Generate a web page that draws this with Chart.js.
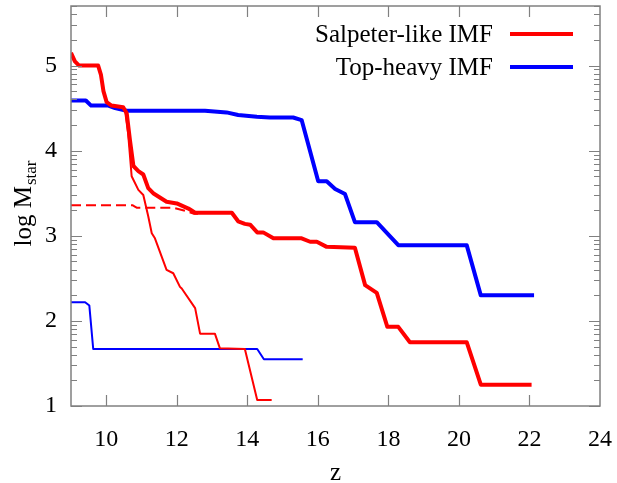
<!DOCTYPE html>
<html lang="en">
<head>
  <meta charset="UTF-8" />
  <title>log Mstar vs z</title>
  <script src="https://cdn.jsdelivr.net/npm/chart.js"></script>
  <style>
    html, body { margin: 0; padding: 0; background: #fff; }
    .chart-container { width: 617px; height: 483px; }
  </style>
</head>
<body>
  <div class="chart-container">
    <canvas id="mstarChart"></canvas>
  </div>

  <script>
    // Salpeter-like IMF, main branch (thick red)
    const salpZ = [9.0, 9.11, 9.23, 9.77, 9.85, 9.92, 10.01, 10.15, 10.48, 10.58, 10.67, 10.77, 10.91, 11.05, 11.19, 11.33, 11.71, 12.0, 12.33, 12.52, 13.56, 13.74, 13.93, 14.08, 14.28, 14.45, 14.74, 15.54, 15.78, 15.97, 16.25, 17.05, 17.34, 17.67, 17.97, 18.28, 18.61, 20.22, 20.62, 22.06];
    const salpM = [5.15, 5.05, 5.0, 5.0, 4.89, 4.70, 4.57, 4.53, 4.51, 4.44, 4.13, 3.82, 3.76, 3.72, 3.56, 3.50, 3.40, 3.38, 3.32, 3.27, 3.27, 3.17, 3.14, 3.13, 3.04, 3.04, 2.97, 2.97, 2.93, 2.93, 2.87, 2.86, 2.42, 2.33, 1.93, 1.93, 1.75, 1.75, 1.25, 1.25];

    // Top-heavy IMF, main branch (thick blue)
    const topZ = [9.0, 9.42, 9.57, 10.06, 10.25, 10.58, 12.8, 13.41, 13.74, 14.27, 14.64, 15.3, 15.54, 16.01, 16.25, 16.49, 16.77, 17.05, 17.67, 18.28, 20.22, 20.62, 22.13];
    const topM = [4.59, 4.59, 4.53, 4.53, 4.50, 4.47, 4.47, 4.45, 4.42, 4.40, 4.39, 4.39, 4.36, 3.64, 3.64, 3.55, 3.49, 3.16, 3.16, 2.89, 2.89, 2.30, 2.30];

    // Salpeter-like IMF, secondary branch (thin red)
    const salp2Z = [10.53, 10.62, 10.72, 10.91, 11.05, 11.19, 11.29, 11.38, 11.71, 11.9, 12.09, 12.14, 12.52, 12.66, 13.08, 13.22, 13.93, 14.28, 14.69];
    const salp2M = [4.48, 4.2, 3.70, 3.54, 3.48, 3.23, 3.03, 2.97, 2.60, 2.56, 2.40, 2.38, 2.15, 1.85, 1.85, 1.68, 1.67, 1.07, 1.07];

    // Salpeter-like IMF, dashed branch
    const salp3Z = [9.0, 10.74, 10.86, 11.9, 12.28, 12.47, 12.6];
    const salp3M = [3.36, 3.36, 3.33, 3.33, 3.29, 3.26, 3.26];

    // Top-heavy IMF, secondary branch (thin blue)
    const top2Z = [9.0, 9.4, 9.52, 9.63, 14.28, 14.47, 15.57];
    const top2M = [2.22, 2.22, 2.18, 1.67, 1.67, 1.55, 1.55];

    const xTicks = [10, 12, 14, 16, 18, 20, 22, 24];
    const yMajor = [1, 2, 3, 4, 5];

    const FONT = '"Liberation Serif", "DejaVu Serif", serif';
    const AXIS_COLOR = '#808080';

    function pts(xs, ys) {
      return xs.map((x, i) => ({ x: x, y: ys[i] }));
    }

    // major integer ticks plus log-style minor ticks n + log10(k)
    const yTicks = [];
    yMajor.forEach(n => {
      yTicks.push({ value: n, major: true });
      for (let k = 2; k <= 9; k++) {
        const v = n + Math.log10(k);
        if (v < 5.7) yTicks.push({ value: v, major: false });
      }
    });

    // inward ticks on all four sides, gnuplot style
    const innerTicks = {
      id: 'innerTicks',
      afterDraw(chart) {
        const c = chart.ctx, a = chart.chartArea;
        const xs = chart.scales.x, ys = chart.scales.y;
        c.save();
        c.strokeStyle = AXIS_COLOR;
        c.lineWidth = 1.2;
        c.beginPath();
        xTicks.forEach(v => {
          const px = Math.round(xs.getPixelForValue(v)) + 0.5;
          if (px >= a.right - 1) return;
          c.moveTo(px, a.bottom); c.lineTo(px, a.bottom - 11);
          c.moveTo(px, a.top); c.lineTo(px, a.top + 11);
        });
        yTicks.forEach(t => {
          const py = Math.round(ys.getPixelForValue(t.value)) + 0.5;
          const len = t.major ? 11 : 6;
          c.moveTo(a.left, py); c.lineTo(a.left + len, py);
          c.moveTo(a.right, py); c.lineTo(a.right - len, py);
        });
        c.stroke();
        c.lineWidth = 1.5;
        c.strokeRect(a.left, a.top, a.right - a.left, a.bottom - a.top);
        c.restore();
      }
    };

    // legend with text to the left of the sample line, plus y title with subscript
    const extras = {
      id: 'extras',
      afterDraw(chart) {
        const c = chart.ctx;
        c.save();
        c.font = '25px ' + FONT;
        c.fillStyle = '#000';
        c.textAlign = 'right';
        c.textBaseline = 'middle';
        [0, 1].forEach((i, row) => {
          const ds = chart.data.datasets[i];
          const y = 34 + row * 33;
          c.fillText(ds.label, 493, y + 1);
          c.strokeStyle = ds.borderColor;
          c.lineWidth = 4;
          c.beginPath();
          c.moveTo(510, y); c.lineTo(573, y);
          c.stroke();
        });

        c.translate(31, 204);
        c.rotate(-Math.PI / 2);
        c.textBaseline = 'alphabetic';
        c.textAlign = 'left';
        const main = 'log M';
        c.font = '17px ' + FONT;
        const subW = c.measureText('star').width;
        c.font = '25px ' + FONT;
        const mainW = c.measureText(main).width;
        const x0 = -(mainW + subW) / 2;
        c.fillText(main, x0, 0);
        c.font = '17px ' + FONT;
        c.fillText('star', x0 + mainW + 1, 5);
        c.restore();
      }
    };

    const ctx = document.getElementById('mstarChart').getContext('2d');

    const chart = new Chart(ctx, {
      type: 'line',
      data: {
        datasets: [
          { label: 'Salpeter-like IMF', data: pts(salpZ, salpM), borderColor: '#ff0000', borderWidth: 4 },
          { label: 'Top-heavy IMF', data: pts(topZ, topM), borderColor: '#0000ff', borderWidth: 4 },
          { label: 'Salpeter-like IMF (branch)', data: pts(salp2Z, salp2M), borderColor: '#ff0000', borderWidth: 2 },
          { label: 'Salpeter-like IMF (dashed)', data: pts(salp3Z, salp3M), borderColor: '#ff0000', borderWidth: 2, borderDash: [10, 5] },
          { label: 'Top-heavy IMF (branch)', data: pts(top2Z, top2M), borderColor: '#0000ff', borderWidth: 2 }
        ]
      },
      options: {
        responsive: true,
        maintainAspectRatio: false,
        animation: false,
        layout: { padding: { top: 6, right: 17, left: 0, bottom: 0 } },
        elements: {
          point: { radius: 0 },
          line: { tension: 0, fill: false, borderJoinStyle: 'round', borderCapStyle: 'butt' }
        },
        plugins: {
          legend: { display: false },
          tooltip: { enabled: false }
        },
        scales: {
          x: {
            type: 'linear',
            min: 9,
            max: 24,
            afterFit: s => { s.height = 77; s.paddingLeft = 0; s.paddingRight = 0; },
            afterBuildTicks: s => { s.ticks = xTicks.map(v => ({ value: v })); },
            grid: { display: false, drawTicks: false },
            border: { display: false },
            ticks: { color: '#000', padding: 19, font: { family: FONT, size: 24 } },
            title: { display: true, text: 'z', color: '#000', padding: { top: 0, bottom: -5 }, font: { family: FONT, size: 25 } }
          },
          y: {
            type: 'linear',
            min: 1,
            max: 5.7,
            afterFit: s => { s.width = 71; s.paddingTop = 0; s.paddingBottom = 0; },
            afterBuildTicks: s => { s.ticks = yTicks.map(t => ({ value: t.value })); },
            grid: { display: false, drawTicks: false },
            border: { display: false },
            ticks: {
              color: '#000',
              padding: 14,
              autoSkip: false,
              font: { family: FONT, size: 24 },
              callback: v => (Math.abs(v - Math.round(v)) < 1e-6 ? String(Math.round(v)) : '')
            }
          }
        }
      },
      plugins: [innerTicks, extras]
    });
  </script>
</body>
</html>
